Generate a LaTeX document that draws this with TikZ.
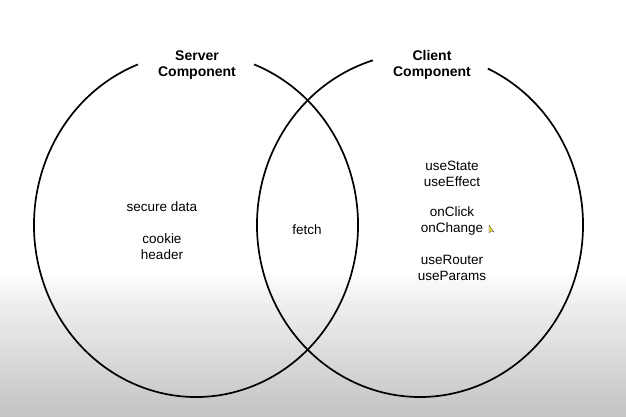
\documentclass[tikz,border=0pt]{standalone}
\usepackage{fontspec}
\setmainfont{Liberation Sans}
\definecolor{bgmid}{HTML}{F0F0F0}
\definecolor{bgbot}{HTML}{C3C3C3}
\definecolor{cursory}{HTML}{E8D23A}
\tikzset{
  venn/.style={line width=1.7pt, black},
  title/.style={font=\fontsize{14}{16}\selectfont\bfseries, align=center, inner sep=0pt},
  item/.style={font=\fontsize{13.5}{16}\selectfont, align=center, inner sep=0pt},
}
\begin{document}
\begin{tikzpicture}[x=1pt,y=1pt]
\useasboundingbox (0,0) rectangle (626,417);
\fill[white] (0,0) rectangle (626,417);
\shade[top color=white, bottom color=bgmid] (0,116.5) rectangle (626,147);
\shade[top color=bgmid, bottom color=bgbot] (0,0) rectangle (626,117);
% ellipses with gaps for titles
\coordinate (lc) at (196,192);
\coordinate (rc) at (420,192);
\draw[venn] ([shift={(111:162 and 172)}]lc) arc[start angle=111, end angle=429, x radius=162, y radius=172];
\draw[venn] ([shift={(106.8:163 and 172)}]rc) arc[start angle=106.8, end angle=425.4, x radius=163, y radius=172];
% titles
\node[title] (srv) at (197,352) {Server\\Component};
\node[title] (cli) at (432,352) {Client\\Component};
% left items
\node[item] (sec) at (162,210) {secure data};
\node[item] (ck) at (162,170) {cookie\\header};
% middle
\node[item] (fe) at (307,187) {fetch};
% right items
\node[item] (st) at (452,243) {useState\\useEffect};
\node[item] (cl) at (452,196) {onClick\\onChange};
\node[item] (ro) at (452,149.5) {useRouter\\useParams};
% mouse cursor
\coordinate (cur) at (489,192);
\fill[cursory, draw=black!70, line width=0.3pt] (cur) -- ++(0,-8) -- ++(2,2) -- ++(3,-1) -- cycle;
\end{tikzpicture}
\end{document}
